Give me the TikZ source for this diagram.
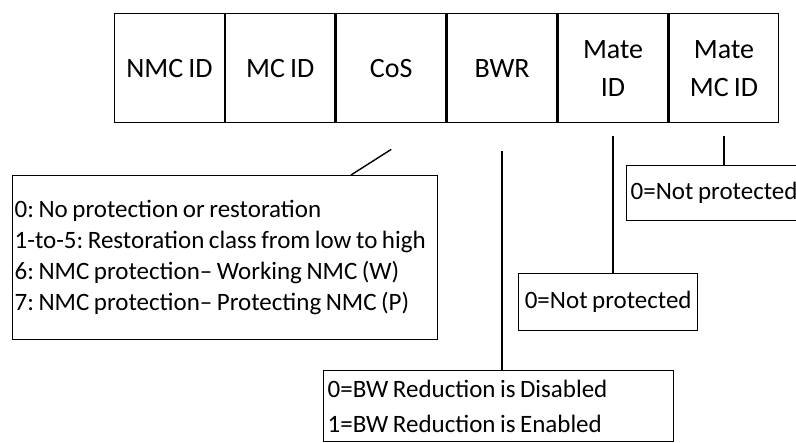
\documentclass[tikz,border=0pt]{standalone}
\usepackage{fontspec}
\setmainfont[WordSpace=0.8]{Carlito}
\frenchspacing
\usetikzlibrary{positioning,calc}
\newcommand{\widthcell}{109.5pt}
\newcommand{\heightcell}{109pt}
\tikzset{
    common/.style={draw, rectangle, line width=1.4pt, inner sep=0pt},
    cell/.style={common, minimum width=\widthcell, minimum height=\heightcell, align=center, font=\fontsize{28}{38}\selectfont},
    note/.style={common, anchor=north west, align=flush left, inner xsep=4pt, font=\fontsize{25}{31}\selectfont},
    lead/.style={line width=1.4pt}
}

\begin{document}
\begin{tikzpicture}[x=1pt, y=-1pt]
    \clip (0,0) rectangle (796,443);

    % header fields
    \node[cell, anchor=north west] (nmc) at (114,13) {NMC ID};
    \node[cell, right=0pt of nmc] (mc) {MC ID};
    \node[cell, right=0pt of mc] (cos) {CoS};
    \node[cell, right=0pt of cos] (bwr) {BWR};
    \node[cell, right=0pt of bwr] (mate) {Mate\\ID};
    \node[cell, right=0pt of mate] (matemc) {Mate\\MC ID};

    % value boxes
    \node[note, minimum width=425pt, minimum height=164pt, inner xsep=2pt, text width=421pt] (cosbox) at (12,175)
        {0: No protection or restoration\\
         1-to-5: Restoration class from low to high\\
         6: NMC protection-- Working NMC (W)\\
         7: NMC protection-- Protecting NMC (P)};
    \node[note, minimum width=350pt, inner ysep=9pt, text width=342pt, font=\fontsize{25}{35}\selectfont] (bwrbox) at (323,370)
        {0=BW Reduction is Disabled\\
         1=BW Reduction is Enabled};
    \node[note, minimum width=179pt, minimum height=57pt, align=center] (matebox) at (518,273) {0=Not protected};
    \node[note, minimum width=200pt, minimum height=55pt, text width=192pt] (matemcbox) at (626,165) {0=Not protected};

    % leads
    \coordinate[below=26pt of cos] (cosend);
    \coordinate[below=28pt of bwr] (bwrend);
    \coordinate[below=13pt of mate] (mateend);
    \coordinate[below=13pt of matemc] (matemcend);

    \draw[lead] (cosend) -- ($(cosbox.north west)!0.795!(cosbox.north east)$);
    \draw[lead] (bwrend) -- (bwrbox.north -| bwrend);
    \draw[lead] (mateend) -- (matebox.north -| mateend);
    \draw[lead] (matemcend) -- (matemcbox.north -| matemcend);
\end{tikzpicture}
\end{document}
